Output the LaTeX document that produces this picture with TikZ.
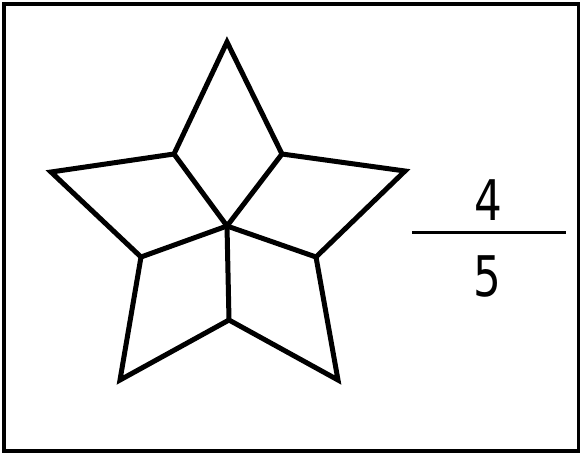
\documentclass[tikz,border=0pt]{standalone}
\usepackage{fontspec}
\setmainfont{DejaVu Sans}
\begin{document}
\begin{tikzpicture}[x=1pt,y=-1pt,
  starline/.style={line width=5pt,line join=miter,miter limit=10},
  digit/.style={font=\fontsize{56}{60}\selectfont,inner sep=0pt,xscale=0.78}]
\useasboundingbox (0,0) rectangle (581,453);
\draw[line width=3.5pt] (4,4) rectangle (578.5,451);
% vertices
\coordinate (T) at (227,42);
\coordinate (L) at (51,172);
\coordinate (R) at (405,171);
\coordinate (BL) at (120,380);
\coordinate (BR) at (338,380);
\coordinate (iUL) at (174,154);
\coordinate (iUR) at (282,154);
\coordinate (iLL) at (141,257);
\coordinate (iLR) at (316,257);
\coordinate (iB) at (229,320);
\coordinate (C) at (227,226);
\draw[starline] (T) -- (iUR) -- (R) -- (iLR) -- (BR) -- (iB) -- (BL) -- (iLL) -- (L) -- (iUL) -- cycle;
\draw[starline] (iUL) -- (C) -- (iUR);
\draw[starline] (iLL) -- (C) -- (iLR);
\draw[starline] (C) -- (iB);
% fraction
\node[digit,anchor=base] (num) at (488,220) {4};
\node[digit,anchor=base] (den) at (487,296) {5};
\coordinate (barL) at (412,232);
\coordinate (barR) at (566,232);
\draw[line width=3pt] (barL) -- (barR);
\end{tikzpicture}
\end{document}
